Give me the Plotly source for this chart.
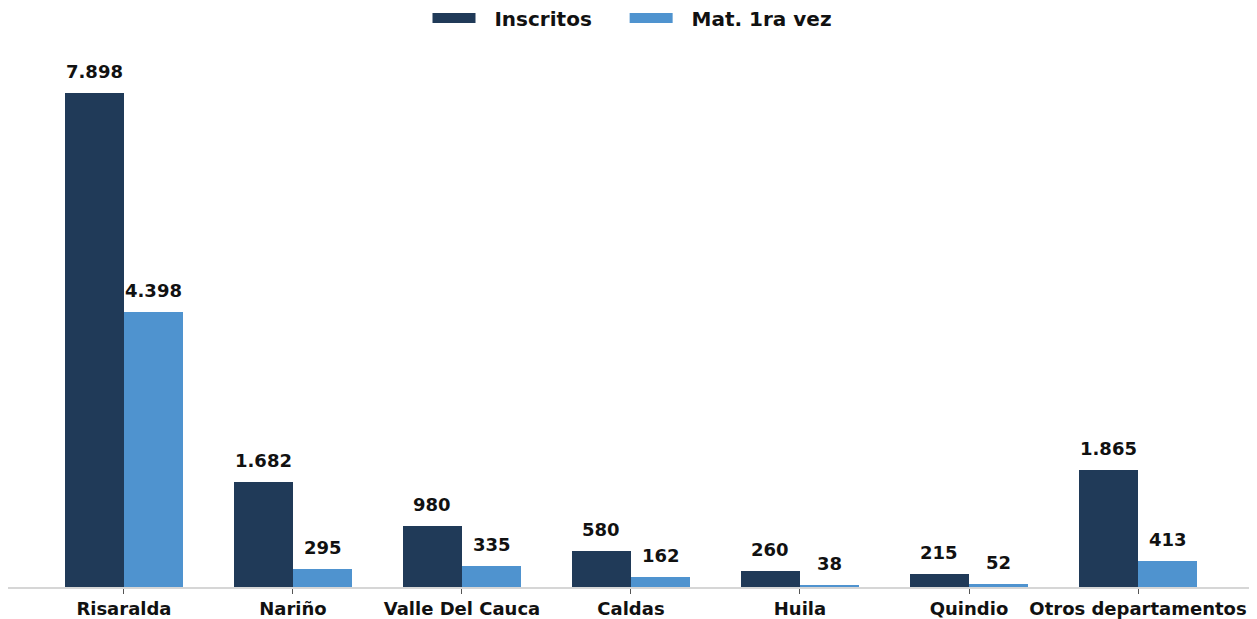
import plotly.graph_objects as go

categories = ["Risaralda", "Nariño", "Valle Del Cauca", "Caldas", "Huila", "Quindio", "Otros departamentos"]
inscritos = [7898, 1682, 980, 580, 260, 215, 1865]
mat_1ra_vez = [4398, 295, 335, 162, 38, 52, 413]
series_names = ["Inscritos", "Mat. 1ra vez"]
colors = ["#203a58", "#4f93cf"]

def fmt(v):
    return f"{v:,}".replace(",", ".")

FONT = "DejaVu Sans"
NB = "\u00a0"
idx = list(range(len(categories)))
w = 0.35
fig = go.Figure()
annotations = []
for k, (name, vals, col) in enumerate(zip(series_names, [inscritos, mat_1ra_vez], colors)):
    off = (k - 0.5) * w
    xs = [i + off for i in idx]
    fig.add_trace(go.Bar(x=xs, y=vals, width=w, marker=dict(color=col, line=dict(width=0)),
                         name=name, showlegend=False))
    # legend proxy
    label = NB * 2 + name + (NB * 4 if k == 0 else "")
    fig.add_trace(go.Scatter(x=[None], y=[None], mode="lines", name=label,
                             line=dict(color=col, width=14)))
    for x, v in zip(xs, vals):
        annotations.append(dict(x=x, y=v, text=fmt(v), showarrow=False, yanchor="bottom",
                                yshift=9, font=dict(family=FONT, size=18, color="#111111", weight="bold")))

W, H = 1249, 611
ymax = 549 * 7898 / 496
fig.update_layout(
    width=W, height=H,
    margin=dict(l=0, r=0, t=32, b=30),
    plot_bgcolor="white", paper_bgcolor="white",
    bargap=0, barmode="overlay",
    annotations=annotations,
    legend=dict(orientation="h", x=0.5, xanchor="center", yref="container",
                y=1 - 10 / H, yanchor="middle",
                font=dict(family=FONT, size=20, color="#111111", weight="bold"),
                itemwidth=43, traceorder="normal"),
    xaxis=dict(range=[-0.686, 6.704], tickmode="array", tickvals=idx, ticktext=categories,
               tickfont=dict(family=FONT, size=18, color="#111111", weight="bold"),
               showline=True, linecolor="#d6d6d6", linewidth=1.5, ticks="outside",
               ticklen=5, tickcolor="#555555", tickwidth=1, showgrid=False, zeroline=False),
    yaxis=dict(range=[0, ymax], visible=False, showgrid=False, zeroline=False),
)
fig.write_html("out.html")
